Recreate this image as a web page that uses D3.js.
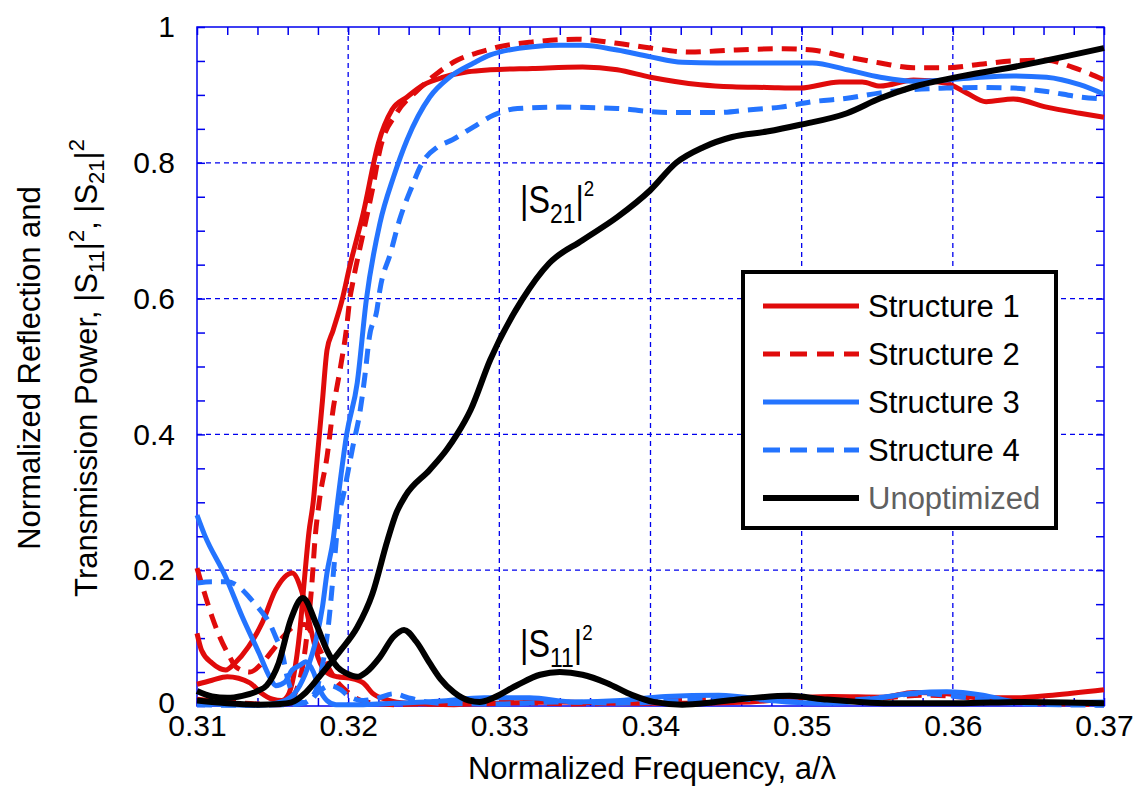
<!DOCTYPE html>
<html>
<head>
<meta charset="utf-8">
<script src="https://cdn.jsdelivr.net/npm/d3@7"></script>
<style>
  body { margin: 0; background: #fff; }
  svg { font-family: "Liberation Sans", Arial, sans-serif; }
</style>
</head>
<body>
<div id="vis"></div>
<script>
// values: [frequency a/lambda, power]
const s1_S21 = [[0.310,0.032],[0.311,0.038],[0.312,0.043],[0.3135,0.034],[0.3142,0.020],[0.3150,0.010],[0.3156,0.008],[0.3160,0.015],[0.3164,0.045],[0.3168,0.110],[0.3171,0.185],[0.3174,0.255],[0.3177,0.303],[0.3179,0.352],[0.3183,0.450],[0.3186,0.524],[0.3190,0.553],[0.3196,0.598],[0.3201,0.647],[0.3210,0.726],[0.3220,0.829],[0.3229,0.878],[0.3239,0.897],[0.3250,0.915],[0.3263,0.926],[0.3279,0.934],[0.3294,0.937],[0.3322,0.939],[0.3355,0.941],[0.3378,0.937],[0.3400,0.926],[0.3433,0.915],[0.3454,0.912],[0.3477,0.911],[0.3499,0.910],[0.3525,0.919],[0.3540,0.919],[0.3552,0.913],[0.3574,0.922],[0.3596,0.917],[0.3609,0.903],[0.3622,0.890],[0.3640,0.894],[0.3662,0.882],[0.3684,0.873],[0.3700,0.867]]
const s1_S11 = [[0.3100,0.107],[0.3103,0.082],[0.3110,0.063],[0.3119,0.053],[0.3125,0.063],[0.3134,0.087],[0.3143,0.122],[0.3152,0.171],[0.3163,0.196],[0.3169,0.171],[0.3175,0.116],[0.3180,0.072],[0.3186,0.049],[0.3193,0.043],[0.3201,0.041],[0.3210,0.034],[0.3216,0.019],[0.3226,0.009],[0.3239,0.004],[0.3270,0.002],[0.3300,0.004],[0.3340,0.006],[0.3380,0.004],[0.3420,0.004],[0.3466,0.006],[0.3499,0.012],[0.3520,0.014],[0.3554,0.013],[0.3574,0.020],[0.3596,0.018],[0.3620,0.012],[0.3642,0.012],[0.3666,0.016],[0.3700,0.024]]

const s2_S21 = [[0.310,0.010],[0.312,0.006],[0.314,0.003],[0.3155,0.002],[0.3162,0.008],[0.3166,0.025],[0.3170,0.060],[0.3173,0.110],[0.3176,0.180],[0.3178,0.244],[0.3181,0.303],[0.3186,0.367],[0.3190,0.436],[0.3195,0.500],[0.3199,0.558],[0.3201,0.598],[0.3203,0.623],[0.3210,0.697],[0.3216,0.760],[0.3221,0.819],[0.3232,0.873],[0.3246,0.907],[0.3259,0.932],[0.3272,0.951],[0.3287,0.963],[0.3300,0.971],[0.3322,0.978],[0.3351,0.982],[0.3378,0.976],[0.3400,0.969],[0.3426,0.963],[0.3454,0.966],[0.3488,0.968],[0.3507,0.966],[0.3530,0.956],[0.3552,0.947],[0.3574,0.940],[0.3596,0.940],[0.3618,0.945],[0.3640,0.950],[0.3662,0.951],[0.3679,0.941],[0.3700,0.922]]
const s2_S11 = [[0.3100,0.203],[0.3105,0.166],[0.3110,0.131],[0.3115,0.102],[0.3121,0.075],[0.3126,0.057],[0.3135,0.050],[0.3143,0.063],[0.3150,0.082],[0.3157,0.102],[0.3165,0.118],[0.3171,0.120],[0.3178,0.098],[0.3185,0.065],[0.3192,0.038],[0.3200,0.020],[0.3210,0.007],[0.3230,0.002],[0.3260,0.004],[0.3300,0.006],[0.3350,0.003],[0.3400,0.007],[0.3450,0.011],[0.3500,0.009],[0.3550,0.011],[0.3580,0.016],[0.3620,0.011],[0.3660,0.004],[0.3700,0.002]]

const s3_S21 = [[0.310,0.004],[0.312,0.002],[0.314,0.001],[0.3150,0.003],[0.3160,0.010],[0.3168,0.030],[0.3175,0.068],[0.3179,0.100],[0.3183,0.146],[0.3186,0.196],[0.3190,0.244],[0.3193,0.300],[0.3199,0.400],[0.3206,0.476],[0.3212,0.598],[0.3221,0.711],[0.3230,0.779],[0.3239,0.834],[0.3254,0.897],[0.3267,0.926],[0.3283,0.947],[0.3294,0.959],[0.3300,0.963],[0.3322,0.971],[0.3340,0.973],[0.3355,0.973],[0.3378,0.966],[0.3400,0.956],[0.3421,0.948],[0.3444,0.947],[0.3466,0.947],[0.3507,0.947],[0.3530,0.937],[0.3552,0.926],[0.3574,0.920],[0.3596,0.922],[0.3618,0.926],[0.3640,0.928],[0.3662,0.926],[0.3684,0.915],[0.3700,0.901]]
const s3_S11 = [[0.3100,0.281],[0.3105,0.252],[0.3119,0.190],[0.3130,0.131],[0.3141,0.078],[0.3148,0.043],[0.3152,0.030],[0.3158,0.035],[0.3163,0.053],[0.3168,0.060],[0.3172,0.065],[0.3177,0.050],[0.3181,0.025],[0.3186,0.008],[0.3192,0.002],[0.3210,0.002],[0.3230,0.004],[0.3260,0.007],[0.3290,0.012],[0.3320,0.012],[0.3350,0.006],[0.3380,0.008],[0.3410,0.014],[0.3445,0.016],[0.3490,0.006],[0.3520,0.004],[0.3552,0.012],[0.3574,0.019],[0.3596,0.021],[0.3620,0.016],[0.3642,0.006],[0.3670,0.005],[0.3700,0.006]]

const s4_S21 = [[0.310,0.002],[0.313,0.001],[0.316,0.002],[0.3170,0.004],[0.3178,0.020],[0.3183,0.060],[0.3187,0.120],[0.3190,0.190],[0.3193,0.264],[0.3198,0.323],[0.3203,0.381],[0.3208,0.436],[0.3211,0.485],[0.3214,0.543],[0.3219,0.583],[0.3221,0.613],[0.3228,0.667],[0.3234,0.716],[0.3242,0.764],[0.3249,0.800],[0.3259,0.823],[0.3269,0.834],[0.3283,0.853],[0.3296,0.870],[0.3312,0.880],[0.3340,0.882],[0.3378,0.880],[0.3411,0.874],[0.3444,0.874],[0.3466,0.878],[0.3486,0.882],[0.3507,0.890],[0.3530,0.895],[0.3552,0.903],[0.3574,0.908],[0.3596,0.910],[0.3618,0.911],[0.3640,0.910],[0.3662,0.905],[0.3684,0.897],[0.3700,0.894]]
const s4_S11 = [[0.3100,0.181],[0.3110,0.183],[0.3120,0.183],[0.3130,0.171],[0.3135,0.159],[0.3143,0.138],[0.3148,0.122],[0.3152,0.102],[0.3157,0.072],[0.3159,0.049],[0.3162,0.025],[0.3166,0.010],[0.3170,0.005],[0.3175,0.008],[0.3180,0.020],[0.3188,0.030],[0.3195,0.024],[0.3200,0.015],[0.3210,0.008],[0.3220,0.012],[0.3230,0.018],[0.3240,0.012],[0.3260,0.004],[0.3300,0.003],[0.3340,0.006],[0.3380,0.004],[0.3420,0.008],[0.3460,0.010],[0.3500,0.006],[0.3540,0.010],[0.3580,0.018],[0.3610,0.012],[0.3640,0.004],[0.3670,0.002],[0.3700,0.001]]

const un_S21 = [[0.310,0.008],[0.312,0.004],[0.314,0.002],[0.3155,0.003],[0.3162,0.005],[0.3172,0.020],[0.3183,0.049],[0.3195,0.082],[0.3206,0.116],[0.3216,0.165],[0.3226,0.244],[0.3232,0.285],[0.3238,0.310],[0.3254,0.348],[0.3265,0.377],[0.3272,0.400],[0.3281,0.436],[0.3294,0.510],[0.3315,0.598],[0.3333,0.652],[0.3355,0.686],[0.3378,0.720],[0.3400,0.760],[0.3417,0.800],[0.3435,0.823],[0.3454,0.838],[0.3477,0.846],[0.3499,0.856],[0.3530,0.873],[0.3552,0.895],[0.3574,0.912],[0.3600,0.925],[0.3640,0.941],[0.3673,0.956],[0.3700,0.969]]
const un_S11 = [[0.3100,0.022],[0.3110,0.014],[0.3120,0.012],[0.3130,0.015],[0.3140,0.022],[0.3146,0.030],[0.3154,0.063],[0.3162,0.127],[0.3170,0.159],[0.3179,0.120],[0.3186,0.082],[0.3193,0.057],[0.3199,0.048],[0.3206,0.043],[0.3212,0.050],[0.3221,0.072],[0.3230,0.102],[0.3237,0.112],[0.3245,0.095],[0.3254,0.063],[0.3261,0.040],[0.3270,0.020],[0.3280,0.008],[0.3287,0.006],[0.3296,0.012],[0.3312,0.031],[0.3327,0.046],[0.3340,0.050],[0.3355,0.046],[0.3371,0.034],[0.3388,0.016],[0.3402,0.006],[0.3421,0.002],[0.3440,0.005],[0.3459,0.010],[0.3492,0.015],[0.3514,0.010],[0.3558,0.004],[0.3603,0.004],[0.3646,0.006],[0.3700,0.004]]

const seriesNames = ["Structure 1", "Structure 2", "Structure 3", "Structure 4", "Unoptimized"]
const xTicks = [0.31, 0.32, 0.33, 0.34, 0.35, 0.36, 0.37]
const xTickLabels = ["0.31", "0.32", "0.33", "0.34", "0.35", "0.36", "0.37"]
const yTicks = [0, 0.2, 0.4, 0.6, 0.8, 1]
const yTickLabels = ["0", "0.2", "0.4", "0.6", "0.8", "1"]

const red = '#e00b0b', blue = '#2474ff', axisBlue = '#0000ee'
const series = [
  { name: seriesNames[0], color: red, dash: null, w: 5, curves: [s1_S21, s1_S11] },
  { name: seriesNames[1], color: red, dash: '15,9', w: 5, curves: [s2_S21, s2_S11] },
  { name: seriesNames[2], color: blue, dash: null, w: 5, curves: [s3_S21, s3_S11] },
  { name: seriesNames[3], color: blue, dash: '15,9', w: 5, curves: [s4_S21, s4_S11] },
  { name: seriesNames[4], color: '#000', dash: null, w: 6, curves: [un_S21, un_S11] }
]

const box = { left: 197, right: 1104, top: 27, bottom: 706 }
const font = 30

const svg = d3.select('#vis').append('svg')
  .attr('width', 1141).attr('height', 796)

const x = d3.scaleLinear().domain([0.31, 0.37]).range([box.left, box.right])
const y = d3.scaleLinear().domain([0, 1]).range([box.bottom, box.top])

// grid (dashed, major ticks only)
const grid = svg.append('g').attr('stroke', axisBlue).attr('stroke-width', 1.3).attr('stroke-dasharray', '5,4')
grid.selectAll('.gx').data(xTicks.slice(1, -1)).enter().append('line')
  .attr('x1', d => x(d)).attr('x2', d => x(d)).attr('y1', box.top).attr('y2', box.bottom)
grid.selectAll('.gy').data(yTicks.slice(1, -1)).enter().append('line')
  .attr('y1', d => y(d)).attr('y2', d => y(d)).attr('x1', box.left).attr('x2', box.right)

// axes, ticks pointing inward on all four sides
const xMinor = d3.range(0, 31).map(i => +(0.31 + i * 0.002).toFixed(3))
const yMinor = d3.range(0, 21).map(i => +(i * 0.05).toFixed(2))

function styleAxis(g) {
  g.selectAll('.domain').remove()
  g.selectAll('line').attr('stroke', axisBlue).attr('stroke-width', 1.5)
  g.selectAll('text').attr('font-size', font).attr('fill', '#000')
    .attr('font-family', '"Liberation Sans", Arial, sans-serif')
}

svg.append('g').attr('transform', `translate(0,${box.bottom})`)
  .call(d3.axisBottom(x).tickValues(xMinor).tickSize(-8).tickFormat(''))
  .call(styleAxis)
svg.append('g').attr('transform', `translate(0,${box.bottom})`)
  .call(d3.axisBottom(x).tickValues(xTicks).tickSize(0).tickPadding(9)
    .tickFormat((d, i) => xTickLabels[i]))
  .call(styleAxis)
svg.append('g').attr('transform', `translate(0,${box.top})`)
  .call(d3.axisTop(x).tickValues(xMinor).tickSize(-8).tickFormat(''))
  .call(styleAxis)
svg.append('g').attr('transform', `translate(${box.left},0)`)
  .call(d3.axisLeft(y).tickValues(yMinor).tickSize(-8).tickFormat(''))
  .call(styleAxis)
svg.append('g').attr('transform', `translate(${box.left},0)`)
  .call(d3.axisLeft(y).tickValues(yTicks).tickSize(0).tickPadding(22)
    .tickFormat((d, i) => yTickLabels[i]))
  .call(styleAxis)
  .call(g => g.selectAll('text').filter(d => d === 0).attr('dy', '0.2em'))
svg.append('g').attr('transform', `translate(${box.right},0)`)
  .call(d3.axisRight(y).tickValues(yMinor).tickSize(-8).tickFormat(''))
  .call(styleAxis)

svg.append('rect')
  .attr('x', box.left).attr('y', box.top)
  .attr('width', box.right - box.left).attr('height', box.bottom - box.top)
  .attr('fill', 'none').attr('stroke', axisBlue).attr('stroke-width', 1.5)

// curves
const line = d3.line().x(d => x(d[0])).y(d => y(d[1])).curve(d3.curveMonotoneX)
series.forEach(s => {
  s.curves.forEach(c => {
    svg.append('path').datum(c)
      .attr('d', line)
      .attr('fill', 'none')
      .attr('stroke', s.color)
      .attr('stroke-width', s.w)
      .attr('stroke-linejoin', 'round')
      .attr('stroke-dasharray', s.dash)
  })
})

// annotations |S21|^2 and |S11|^2
function sLabel(g, sub) {
  const t = g.append('text').attr('font-size', 38).attr('fill', '#000')
  t.append('tspan').text('|S')
  t.append('tspan').attr('font-size', 27).attr('dy', 10).text(sub)
  t.append('tspan').attr('dy', -10).text('|')
  t.append('tspan').attr('font-size', 22).attr('dy', -17).text('2')
}
sLabel(svg.append('g').attr('transform', 'translate(520,213) scale(0.85,1)'), '21')
sLabel(svg.append('g').attr('transform', 'translate(520,657) scale(0.85,1)'), '11')

// legend
const lg = svg.append('g')
lg.append('rect').attr('x', 743).attr('y', 272).attr('width', 313).attr('height', 256)
  .attr('fill', '#fff').attr('stroke', '#000').attr('stroke-width', 4)
series.forEach((s, i) => {
  const ry = 306 + i * 48
  lg.append('line').attr('x1', 763).attr('x2', 859).attr('y1', ry).attr('y2', ry)
    .attr('stroke', s.color).attr('stroke-width', s.w).attr('stroke-dasharray', s.dash ? '17,10' : null)
  lg.append('text').attr('x', 868).attr('y', ry + 11).attr('font-size', 31)
    .attr('fill', i === 4 ? '#606060' : '#000').text(s.name)
})

// axis titles
svg.append('text').attr('x', 652).attr('y', 779).attr('text-anchor', 'middle')
  .attr('font-size', 31).text('Normalized Frequency, a/\u03bb')

svg.append('text').attr('transform', 'translate(40,368) rotate(-90)')
  .attr('text-anchor', 'middle').attr('font-size', 31)
  .text('Normalized Reflection and')

const yt = svg.append('text').attr('transform', 'translate(97,368) rotate(-90)')
  .attr('text-anchor', 'middle').attr('font-size', 31)
yt.append('tspan').text('Transmission Power, |S')
yt.append('tspan').attr('font-size', 22).attr('dy', 7).text('11')
yt.append('tspan').attr('dy', -7).text('|')
yt.append('tspan').attr('font-size', 22).attr('dy', -13).text('2')
yt.append('tspan').attr('dy', 13).text(', |S')
yt.append('tspan').attr('font-size', 22).attr('dy', 7).text('21')
yt.append('tspan').attr('dy', -7).text('|')
yt.append('tspan').attr('font-size', 22).attr('dy', -13).text('2')
</script>
</body>
</html>
